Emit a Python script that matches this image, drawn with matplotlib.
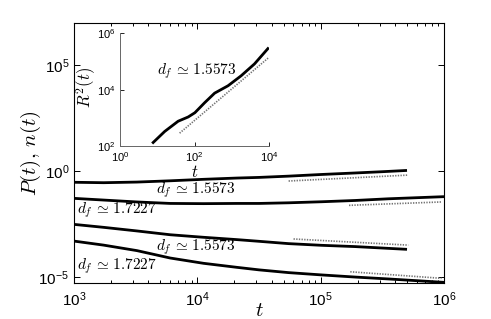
import numpy as np
import matplotlib
matplotlib.use("Agg")
import matplotlib.pyplot as plt
from matplotlib.ticker import FixedLocator, NullLocator, FuncFormatter, LogLocator

plt.rcParams['font.family'] = ['Liberation Sans', 'DejaVu Sans']
plt.rcParams['mathtext.fontset'] = 'cm'

# ---- main panel data (log10 t, log10 value) ----
logt_a = [3.0, 3.24, 3.51, 3.78, 4.05, 4.32, 4.5, 4.74, 5.01, 5.28, 5.5, 5.70]
P_upper_log = [-0.53, -0.55, -0.52, -0.46, -0.39, -0.33, -0.30, -0.24, -0.16, -0.09, -0.03, 0.03]

logt_b = [3.0, 3.24, 3.51, 3.78, 4.05, 4.32, 4.5, 4.74, 5.01, 5.28, 5.55, 6.0]
P_lower_log = [-1.29, -1.37, -1.46, -1.53, -1.54, -1.53, -1.53, -1.50, -1.45, -1.39, -1.31, -1.21]

logt_c = [3.0, 3.24, 3.51, 3.78, 4.05, 4.32, 4.5, 4.74, 5.01, 5.28, 5.70]
n_upper_log = [-2.52, -2.66, -2.83, -3.01, -3.13, -3.24, -3.32, -3.43, -3.51, -3.57, -3.70]

logt_d = [3.0, 3.24, 3.51, 3.78, 4.05, 4.32, 4.5, 4.74, 5.01, 5.28, 5.55, 6.0]
n_lower_log = [-3.31, -3.50, -3.76, -4.11, -4.36, -4.55, -4.67, -4.80, -4.91, -5.01, -5.10, -5.26]

# guide lines: endpoints (log10 t, log10 y)
guide1 = ([4.74, 5.71], [-0.47, -0.19])
guide2 = ([5.23, 5.98], [-1.62, -1.46])
guide3 = ([4.78, 5.71], [-3.21, -3.50])
guide4 = ([5.24, 5.98], [-4.76, -5.07])

labels_main = [r"$d_f\,\simeq\,1.5573$", r"$d_f\,\simeq\,1.7227$",
               r"$d_f\,\simeq\,1.5573$", r"$d_f\,\simeq\,1.7227$"]

# ---- inset data (log10 t, log10 R^2) ----
ins_t_log = [0.89, 1.20, 1.56, 1.83, 2.01, 2.27, 2.54, 2.90, 3.25, 3.61, 3.97]
ins_R2_log = [2.14, 2.53, 2.89, 3.04, 3.19, 3.54, 3.88, 4.14, 4.49, 4.91, 5.45]
ins_guide = ([1.60, 3.98], [2.47, 5.12])

fig = plt.figure(figsize=(4.91, 3.19), dpi=100)
ax = fig.add_axes([0.1507, 0.1129, 0.7536, 0.8151])

def p10(a):
    return 10 ** np.asarray(a, dtype=float)

for lt, ly in [(logt_a, P_upper_log), (logt_b, P_lower_log), (logt_c, n_upper_log), (logt_d, n_lower_log)]:
    ax.plot(p10(lt), p10(ly), color='black', lw=2.0, solid_capstyle='butt', solid_joinstyle='round')
for gt, gy in [guide1, guide2, guide3, guide4]:
    ax.plot(p10(gt), p10(gy), color='0.45', lw=1.2, ls=(0, (0.8, 0.8)))

ax.set_xscale('log'); ax.set_yscale('log')
ax.set_xlim(1e3, 1e6)
ax.set_ylim(10**-5.29, 10**7)
ax.yaxis.set_major_locator(FixedLocator([1e-5, 1e0, 1e5]))
ax.yaxis.set_minor_locator(NullLocator())
ax.xaxis.set_major_locator(FixedLocator([1e3, 1e4, 1e5, 1e6]))
ax.xaxis.set_minor_locator(LogLocator(base=10, subs=np.arange(2, 10)))
fmt = FuncFormatter(lambda v, p: r"$\mathregular{10^{%d}}$" % int(round(np.log10(v))))
ax.xaxis.set_major_formatter(fmt); ax.yaxis.set_major_formatter(fmt)
ax.tick_params(which='both', direction='in', top=True, right=True, labelsize=11, width=0.7)
ax.tick_params(which='major', length=4)
ax.tick_params(which='minor', length=2)
ax.tick_params(axis='x', pad=5)
for s in ax.spines.values():
    s.set_linewidth(0.8)
ax.set_xlabel(r"$t$", fontsize=15)
ax.xaxis.set_label_coords(0.5, -0.07)
ax.set_ylabel(r"$P(t),\,n(t)$", fontsize=15)
ax.yaxis.set_label_coords(-0.084, 0.5)

label_pos = [(3.99, -0.90), (3.35, -1.87), (3.99, -3.6), (3.35, -4.5)]
for (lx, ly), txt in zip(label_pos, labels_main):
    ax.text(10**lx, 10**ly, txt, fontsize=11, ha='center', va='center')

# ---- inset ----
axi = fig.add_axes([0.2444, 0.5408, 0.3035, 0.3558])
axi.plot(p10(ins_t_log), p10(ins_R2_log), color='black', lw=2.0, solid_joinstyle='round')
axi.plot(p10(ins_guide[0]), p10(ins_guide[1]), color='0.45', lw=1.2, ls=(0, (0.8, 0.8)))
axi.set_xscale('log'); axi.set_yscale('log')
axi.set_xlim(1, 1e4); axi.set_ylim(1e2, 1e6)
axi.xaxis.set_major_locator(FixedLocator([1e0, 1e2, 1e4]))
axi.yaxis.set_major_locator(FixedLocator([1e2, 1e4, 1e6]))
axi.xaxis.set_minor_locator(NullLocator()); axi.yaxis.set_minor_locator(NullLocator())
axi.xaxis.set_major_formatter(fmt); axi.yaxis.set_major_formatter(fmt)
axi.tick_params(direction='in', labelsize=8, length=3, width=0.6)
axi.tick_params(axis='x', pad=3)
axi.tick_params(axis='y', pad=3)
axi.spines['top'].set_visible(False); axi.spines['right'].set_visible(False)
for s in ['left', 'bottom']:
    axi.spines[s].set_color('0.4'); axi.spines[s].set_linewidth(0.7)
axi.patch.set_alpha(0)
axi.set_xlabel(r"$t$", fontsize=12)
axi.xaxis.set_label_coords(0.5, -0.155)
axi.set_ylabel(r"$R^2(t)$", fontsize=12)
axi.yaxis.set_label_coords(-0.145, 0.52)
axi.text(10**2.05, 10**4.65, r"$d_f\,\simeq\,1.5573$", fontsize=11, ha='center', va='center')

fig.savefig("out.png", dpi=100)
